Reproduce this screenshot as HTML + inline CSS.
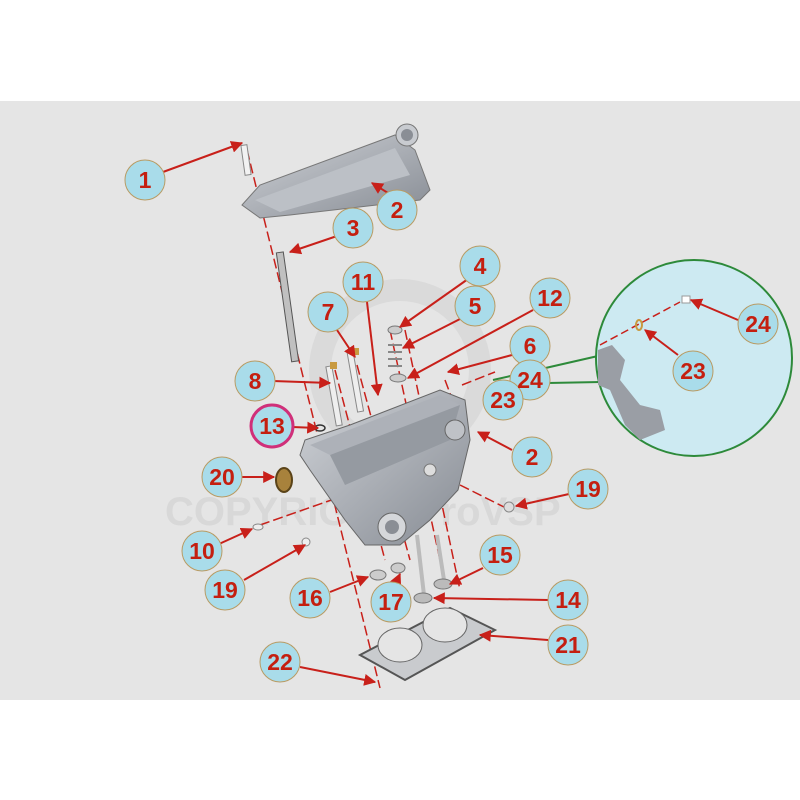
<!DOCTYPE html>
<html><head><style>
html,body{margin:0;padding:0;background:#fff;}
svg{display:block;}
text{font-family:"Liberation Sans",sans-serif;font-weight:bold;}
</style></head><body>
<svg width="800" height="800" viewBox="0 0 800 800">
<defs>
<marker id="ar" viewBox="0 0 10 10" refX="9" refY="5" markerWidth="6" markerHeight="6" orient="auto"><path d="M0,0 L10,5 L0,10 z" fill="#c8201a"/></marker>
<linearGradient id="mg" x1="0" y1="0" x2="1" y2="1"><stop offset="0" stop-color="#d0d3d8"/><stop offset="1" stop-color="#868b93"/></linearGradient>
</defs>
<rect x="0" y="0" width="800" height="800" fill="#fff"/>
<rect x="0" y="101" width="800" height="599" fill="#e5e5e5"/>
<!-- watermark -->
<circle cx="400" cy="370" r="80" fill="none" stroke="#dadada" stroke-width="22"/>
<text x="165" y="525" font-size="40" fill="#d8d8d8" font-weight="normal">COPYRIGHT ProVSP</text>

<!-- dashed axis lines -->
<g stroke="#c8201a" stroke-width="1.5" stroke-dasharray="10,4" fill="none">
<line x1="247" y1="150" x2="380" y2="688"/>
<line x1="335" y1="370" x2="385" y2="560"/>
<line x1="357" y1="365" x2="410" y2="560"/>
<line x1="390" y1="330" x2="440" y2="560"/>
<line x1="405" y1="330" x2="460" y2="590"/>
<line x1="445" y1="380" x2="460" y2="420"/>
<line x1="260" y1="525" x2="360" y2="490"/>
<line x1="460" y1="485" x2="510" y2="510"/>
<line x1="462" y1="385" x2="495" y2="372"/>
</g>

<!-- valve cover -->
<g>
<polygon points="242,205 260,185 395,135 415,150 430,190 420,200 290,215 260,218" fill="url(#mg)" stroke="#777" stroke-width="1"/>
<polygon points="255,200 395,148 410,175 280,212" fill="#bcc0c6"/>
<circle cx="407" cy="135" r="11" fill="#c8cbd0" stroke="#777"/>
<circle cx="407" cy="135" r="6" fill="#8a8e95"/>
</g>
<rect x="243" y="145" width="6" height="30" fill="#f2f2f2" stroke="#888" transform="rotate(-8 246 160)"/>
<rect x="283" y="252" width="7" height="110" fill="#c0c0c0" stroke="#555" transform="rotate(-8 286 300)"/>
<rect x="330" y="366" width="6" height="60" fill="#eee" stroke="#888" transform="rotate(-10 333 390)"/>
<rect x="352" y="352" width="6" height="60" fill="#eee" stroke="#888" transform="rotate(-10 355 380)"/>
<rect x="330" y="362" width="7" height="7" fill="#c89a40"/>
<rect x="352" y="348" width="7" height="7" fill="#c89a40"/>
<g fill="none" stroke="#888" stroke-width="2"><path d="M388,345 h14 M388,352 h14 M388,359 h14 M388,366 h14"/></g>
<ellipse cx="395" cy="330" rx="7" ry="4" fill="#ccc" stroke="#777"/>
<ellipse cx="398" cy="378" rx="8" ry="4" fill="#ccc" stroke="#777"/>

<!-- cylinder head -->
<g>
<polygon points="300,455 305,440 350,425 440,390 465,400 470,440 458,490 430,520 400,545 365,545 345,520 310,470" fill="url(#mg)" stroke="#666" stroke-width="1"/>
<polygon points="310,445 440,395 460,405 330,455" fill="#adb1b8"/>
<polygon points="330,455 460,405 450,440 345,485" fill="#959aa1"/>
<circle cx="392" cy="527" r="14" fill="#d5d7da" stroke="#666"/>
<circle cx="392" cy="527" r="7" fill="#8a8e95"/>
<circle cx="455" cy="430" r="10" fill="#bfc2c7" stroke="#666"/>
<circle cx="430" cy="470" r="6" fill="#ddd" stroke="#777"/>
</g>
<ellipse cx="284" cy="480" rx="8" ry="12" fill="#a8823c" stroke="#5a4318" stroke-width="2"/>
<ellipse cx="258" cy="527" rx="5" ry="3" fill="#eee" stroke="#888"/>
<ellipse cx="306" cy="542" rx="4" ry="4" fill="#eee" stroke="#888"/>
<ellipse cx="509" cy="507" rx="5" ry="5" fill="#ddd" stroke="#888"/>
<ellipse cx="378" cy="575" rx="8" ry="5" fill="#ccc" stroke="#777"/>
<ellipse cx="398" cy="568" rx="7" ry="5" fill="#ccc" stroke="#777"/>
<ellipse cx="320" cy="428" rx="5" ry="3" fill="none" stroke="#333" stroke-width="1.5"/>
<line x1="417" y1="535" x2="424" y2="595" stroke="#bbb" stroke-width="4"/>
<line x1="437" y1="535" x2="444" y2="580" stroke="#bbb" stroke-width="4"/>
<ellipse cx="423" cy="598" rx="9" ry="5" fill="#bbb" stroke="#777"/>
<ellipse cx="443" cy="584" rx="9" ry="5" fill="#bbb" stroke="#777"/>
<polygon points="360,655 450,608 495,630 405,680" fill="#c9cbce" stroke="#555" stroke-width="2"/>
<ellipse cx="400" cy="645" rx="22" ry="17" fill="#e5e5e5" stroke="#666"/>
<ellipse cx="445" cy="625" rx="22" ry="17" fill="#e5e5e5" stroke="#666"/>
<path d="M493,380 L598,356 M493,384 L601,382" stroke="#2d8a3a" stroke-width="2" fill="none"/>
<circle cx="694" cy="358" r="98" fill="#cdeaf2" stroke="#2d8a3a" stroke-width="2"/>
<path d="M598,350 L612,345 L625,360 L620,380 L640,405 L660,410 L665,430 L640,440 L625,425 L610,390 L598,385 z" fill="#9a9ea5"/>
<line x1="600" y1="345" x2="680" y2="302" stroke="#c8201a" stroke-width="1.5" stroke-dasharray="8,4"/>
<ellipse cx="639" cy="325" rx="3" ry="5" fill="none" stroke="#c89a40" stroke-width="2"/>
<rect x="682" y="296" width="8" height="7" fill="#fff" stroke="#999"/>

<g stroke="#c8201a" stroke-width="2" fill="none" marker-end="url(#ar)">
<line x1="163" y1="172" x2="242" y2="143"/>
<line x1="388" y1="193" x2="372" y2="183"/>
<line x1="337" y1="236" x2="290" y2="252"/>
<line x1="468" y1="279" x2="400" y2="327"/>
<line x1="462" y1="318" x2="403" y2="348"/>
<line x1="335" y1="327" x2="355" y2="357"/>
<line x1="367" y1="302" x2="378" y2="395"/>
<line x1="533" y1="310" x2="408" y2="378"/>
<line x1="512" y1="355" x2="448" y2="372"/>
<line x1="273" y1="381" x2="330" y2="383"/>
<line x1="292" y1="427" x2="318" y2="428"/>
<line x1="512" y1="450" x2="478" y2="432"/>
<line x1="242" y1="477" x2="274" y2="477"/>
<line x1="569" y1="494" x2="516" y2="506"/>
<line x1="219" y1="544" x2="252" y2="529"/>
<line x1="244" y1="580" x2="305" y2="545"/>
<line x1="483" y1="568" x2="450" y2="584"/>
<line x1="330" y1="592" x2="368" y2="577"/>
<line x1="396" y1="583" x2="400" y2="574"/>
<line x1="548" y1="600" x2="434" y2="598"/>
<line x1="548" y1="640" x2="480" y2="635"/>
<line x1="300" y1="667" x2="375" y2="682"/>
<line x1="738" y1="320" x2="691" y2="300"/>
<line x1="678" y1="355" x2="645" y2="330"/>
</g>

<g font-size="23" text-anchor="middle" fill="#c41f10">
<g stroke="#b99b63" stroke-width="1" fill="#a9dcea">
<circle cx="145" cy="180" r="20"/><circle cx="397" cy="210" r="20"/><circle cx="353" cy="228" r="20"/>
<circle cx="480" cy="266" r="20"/><circle cx="475" cy="306" r="20"/><circle cx="328" cy="312" r="20"/>
<circle cx="363" cy="282" r="20"/><circle cx="550" cy="298" r="20"/><circle cx="530" cy="346" r="20"/>
<circle cx="530" cy="380" r="20"/><circle cx="503" cy="400" r="20"/><circle cx="255" cy="381" r="20"/>
<circle cx="532" cy="457" r="20"/><circle cx="222" cy="477" r="20"/>
<circle cx="588" cy="489" r="20"/><circle cx="202" cy="551" r="20"/><circle cx="225" cy="590" r="20"/>
<circle cx="500" cy="555" r="20"/><circle cx="310" cy="598" r="20"/><circle cx="391" cy="602" r="20"/>
<circle cx="568" cy="600" r="20"/><circle cx="568" cy="645" r="20"/><circle cx="280" cy="662" r="20"/>
<circle cx="758" cy="324" r="20"/><circle cx="693" cy="371" r="20"/>
</g>
<circle cx="272" cy="426" r="21" fill="#a9dcea" stroke="#d0307a" stroke-width="3"/>
<text x="145" y="188">1</text><text x="397" y="218">2</text><text x="353" y="236">3</text>
<text x="480" y="274">4</text><text x="475" y="314">5</text><text x="328" y="320">7</text>
<text x="363" y="290">11</text><text x="550" y="306">12</text><text x="530" y="354">6</text>
<text x="530" y="388">24</text><text x="503" y="408">23</text><text x="255" y="389">8</text>
<text x="272" y="434">13</text><text x="532" y="465">2</text><text x="222" y="485">20</text>
<text x="588" y="497">19</text><text x="202" y="559">10</text><text x="225" y="598">19</text>
<text x="500" y="563">15</text><text x="310" y="606">16</text><text x="391" y="610">17</text>
<text x="568" y="608">14</text><text x="568" y="653">21</text><text x="280" y="670">22</text>
<text x="758" y="332">24</text><text x="693" y="379">23</text>
</g>
</svg>
</body></html>
